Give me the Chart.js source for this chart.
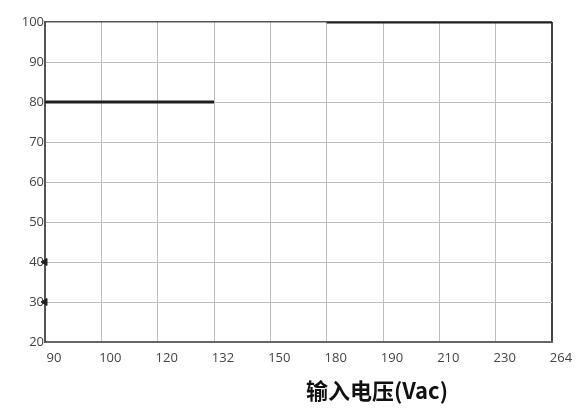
<!DOCTYPE html>
<html><head><meta charset="utf-8">
<script src="https://cdn.jsdelivr.net/npm/chart.js@4"></script>
<style>
html,body{margin:0;padding:0;background:#fff;}
#wrap{position:relative;width:577px;height:411px;}
#title{position:absolute;left:0;width:754px;top:373px;text-align:center;font:bold 22px "Noto Sans CJK SC","Noto Sans",sans-serif;color:#111;}
</style></head>
<body>
<div id="wrap"><canvas id="c" width="577" height="411"></canvas><div id="title">输入电压(Vac)</div></div>
<script>
const categories = ['90','100','120','132','150','180','190','210','230','264'];
const efficiency = [80, 80, 80, 80, null, 100, 100, 100, 100, 100];
const axisMarkers = [40, 30];
const yTicks = [20, 30, 40, 50, 60, 70, 80, 90, 100];

const tickFont = {family: '"Open Sans","Noto Sans",sans-serif', size: 13};
new Chart(document.getElementById('c'), {
  type: 'line',
  data: {
    labels: categories,
    datasets: [
      {data: efficiency, borderColor: '#1e1e1e', borderWidth: 3, pointRadius: 0, spanGaps: false, tension: 0},
      {data: axisMarkers.map(v => ({x: categories[0], y: v})), showLine: false, pointStyle: 'triangle', rotation: 270,
       pointRadius: 4, backgroundColor: '#222', borderColor: '#222'}
    ]
  },
  options: {
    responsive: false, animation: false,
    layout: {padding: {top: 22, right: 25, left: 0, bottom: 0}},
    plugins: {legend: {display: false}, tooltip: {enabled: false}},
    scales: {
      x: {
        type: 'category', offset: false,
        afterFit: s => { s.height = 69; },
        grid: {color: c => c.index === categories.length - 1 ? '#444' : '#bdbdbd', lineWidth: c => c.index === categories.length - 1 ? 2 : 1, drawTicks: false},
        border: {color: '#666', width: 2},
        ticks: {padding: 8, labelOffset: 9, color: '#444', font: tickFont, maxRotation: 0, autoSkip: false}
      },
      y: {
        min: 20, max: 100,
        afterFit: s => { s.width = 45; },
        afterBuildTicks: s => { s.ticks = yTicks.map(v => ({value: v})); },
        grid: {color: c => c.tick && c.tick.value === 100 ? '#555' : '#bdbdbd', lineWidth: c => c.tick && c.tick.value === 100 ? 1.5 : 1, drawTicks: false},
        border: {color: '#555', width: 2},
        ticks: {padding: 1, color: '#444', font: tickFont}
      }
    }
  }
});
</script>
</body></html>
